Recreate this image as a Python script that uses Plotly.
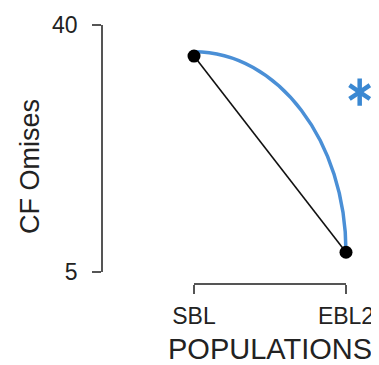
import plotly.graph_objects as go

populations = ["SBL", "EBL2"]
pos = [0, 1]
cf_black = [35.6, 7.8]
cf_blue = [36.2, 7.8]
star_x = [1.09]
star_y = [30.5]
y_ticks = [5, 40]

OFF = 8                      # page body margin of the html page
W, H = 379 - OFF, 365 - OFF  # figure size that fits the window
# pixel placement of the range frame (window pixels minus page offset)
XL, XR = 194 - OFF, 346 - OFF      # SBL, EBL2 pixel x
YT, YB = 25 - OFF, 272 - OFF       # 40, 5 pixel y (from top)
YAX_X = 102 - OFF                  # y axis line pixel x
XAX_Y = 284 - OFF                  # x axis line pixel y

# full-paper data axes mapped so they coincide with the frame axes
px_per_x = (XR - XL) / (pos[1] - pos[0])
xr0 = pos[0] - XL / px_per_x
xr1 = xr0 + W / px_per_x
px_per_y = (YB - YT) / (y_ticks[1] - y_ticks[0])
yr0 = y_ticks[0] - (H - YB) / px_per_y
yr1 = yr0 + H / px_per_y

fig = go.Figure()

# blue quarter-ellipse arc between the two blue values (cubic bezier)
k = 0.5523
x0, y0 = pos[0], cf_blue[0]
x1, y1 = pos[1], cf_blue[1]
path = f"M {x0},{y0} C {x0 + k*(x1-x0)},{y0} {x1},{y1 + k*(y0-y1)} {x1},{y1}"
fig.add_shape(type="path", path=path, xref="x", yref="y",
              line=dict(color="#4a8fd6", width=3.5), layer="below")

fig.add_trace(go.Scatter(x=pos, y=cf_black, mode="lines+markers",
                         line=dict(color="#111111", width=1.6),
                         marker=dict(color="#000000", size=13),
                         cliponaxis=False, showlegend=False,
                         xaxis="x", yaxis="y"))
# six-armed asterisk marker (two three-armed halves)
for sym in ["y-up-open", "y-down-open"]:
    fig.add_trace(go.Scatter(x=star_x, y=star_y, mode="markers",
                             marker=dict(symbol=sym, size=17,
                                         color="#3a88d2",
                                         line=dict(color="#3a88d2", width=4.5)),
                             cliponaxis=False, showlegend=False,
                             xaxis="x", yaxis="y"))
# invisible trace to register the frame axes
fig.add_trace(go.Scatter(x=pos, y=y_ticks, mode="markers",
                         marker=dict(opacity=0), hoverinfo="skip",
                         showlegend=False, xaxis="x2", yaxis="y2"))

axis_common = dict(showline=True, linecolor="#555555", linewidth=1.6,
                   ticks="outside", ticklen=9, tickwidth=1.6,
                   tickcolor="#555555", showgrid=False, zeroline=False,
                   automargin=False, tickfont=dict(size=23, color="#222222"))

fig.update_layout(
    width=W, height=H,
    margin=dict(l=0, r=0, t=0, b=0, autoexpand=False),
    paper_bgcolor="white", plot_bgcolor="rgba(0,0,0,0)",
    font=dict(family="Liberation Sans, Arial, sans-serif", color="#222222"),
    xaxis=dict(domain=[0, 1], range=[xr0, xr1], visible=False,
               automargin=False, fixedrange=True),
    yaxis=dict(domain=[0, 1], range=[yr0, yr1], visible=False,
               automargin=False, fixedrange=True),
    xaxis2=dict(domain=[XL / W, XR / W], range=[pos[0], pos[1]],
                anchor="free", position=(H - XAX_Y) / H,
                tickvals=pos, ticktext=populations, ticklabelstandoff=3,
                **axis_common),
    yaxis2=dict(domain=[(H - YB) / H, (H - YT) / H], range=y_ticks,
                anchor="free", position=YAX_X / W, tickvals=y_ticks,
                ticklabelstandoff=10, **axis_common),
    annotations=[
        dict(text="CF Omises", x=(30 - OFF) / W, y=(H - (167 - OFF)) / H,
             xref="paper", yref="paper", textangle=-90, showarrow=False,
             font=dict(size=27), xanchor="center", yanchor="middle"),
        dict(text="POPULATIONS", x=(270 - OFF) / W, y=(H - (349 - OFF)) / H,
             xref="paper", yref="paper", showarrow=False,
             font=dict(size=29), xanchor="center", yanchor="middle"),
    ],
)

fig.write_html("out.html")
